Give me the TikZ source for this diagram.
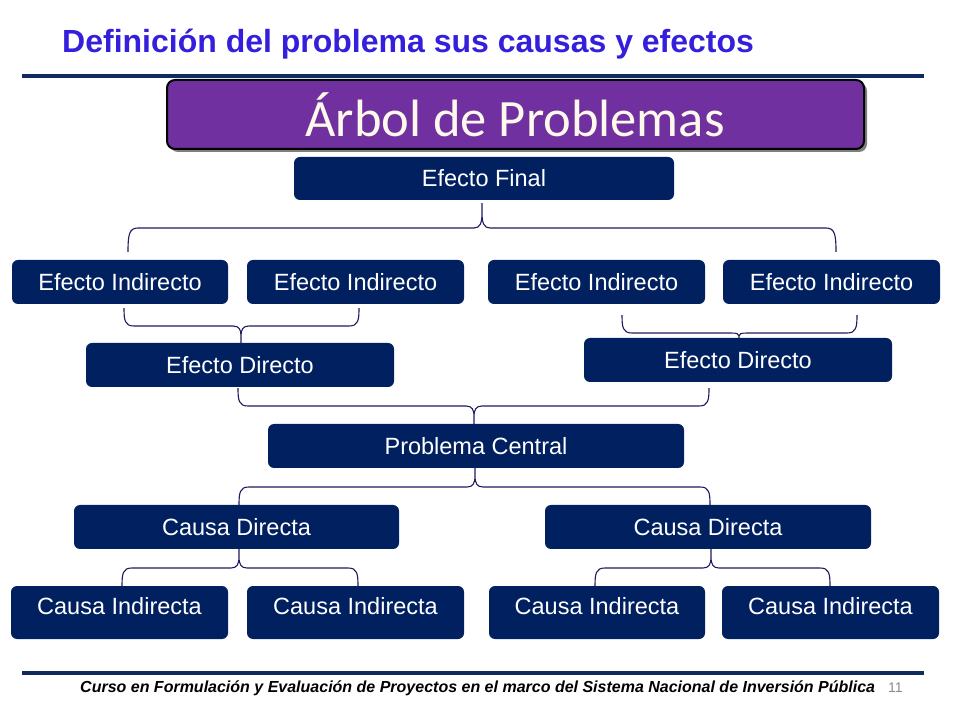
\documentclass[tikz,border=0pt]{standalone}
\usepackage{fontspec}
\setmainfont{Liberation Sans}
\newfontfamily\calibfont{Carlito}
\usetikzlibrary{calc,shadows}
\definecolor{navy}{HTML}{002060}
\definecolor{rulecol}{HTML}{0F2A5C}
\definecolor{titleblue}{RGB}{52,32,220}
\definecolor{bannerpurple}{HTML}{7030A0}
\definecolor{conncol}{HTML}{1E1B5E}
\definecolor{cream}{HTML}{FFF8EC}
\definecolor{pagegray}{HTML}{8C8C8C}
\newcommand\treebrace[4]{%
 \draw[conn] let \p1=(#1), \p2=(#2), \p3=(#3) in
 (\x1,\y1) -- (\x1,{#4pt+0.6*(\y1-#4pt)}) .. controls (\x1,{#4pt+0.2*(\y1-#4pt)}) and (\x1-2pt,#4pt) .. (\x1-8pt,#4pt) -- (\x2+10pt,#4pt) .. controls (\x2+1pt,#4pt) and (\x2,{#4pt+0.3*(\y2-#4pt)}) .. (\x2,\y2)
 (\x1,{#4pt+0.6*(\y1-#4pt)}) .. controls (\x1,{#4pt+0.2*(\y1-#4pt)}) and (\x1+2pt,#4pt) .. (\x1+8pt,#4pt) -- (\x3-10pt,#4pt) .. controls (\x3-1pt,#4pt) and (\x3,{#4pt+0.3*(\y3-#4pt)}) .. (\x3,\y3);}
\begin{document}
\begin{tikzpicture}[x=1pt,y=1pt,
  box/.style={rectangle, rounded corners=6pt, fill=navy, text=white, inner sep=0pt,
    font=\fontsize{23.5}{28}\selectfont, text height=16.8pt, text depth=0pt, minimum height=44pt},
  cibox/.style={box, minimum height=53pt, text depth=12pt},
  conn/.style={draw=conncol, line width=1.1pt},
  rulebar/.style={draw=rulecol, line width=4pt}]
\useasboundingbox[fill=white] (0,0) rectangle (960,720);
% title and rules
\node[anchor=base west, inner sep=0pt, text=titleblue, font=\bfseries\fontsize{32}{38}\selectfont] (title) at (62,667) {Definición del problema sus causas y efectos};
\coordinate (r1a) at (22,644); \coordinate (r1b) at (924,644);
\draw[rulebar] (r1a) -- (r1b);
\coordinate (r2a) at (22,47); \coordinate (r2b) at (924,47);
\draw[rulebar] (r2a) -- (r2b);
% banner
\node[draw=black, line width=2pt, fill=bannerpurple, rounded corners=8pt, minimum width=697pt, minimum height=69pt, inner sep=0pt,
  drop shadow={shadow xshift=3pt, shadow yshift=-3pt, fill=black, opacity=0.5}] (banner) at (515.5,605.5) {};
\node[anchor=base, inner sep=0pt, text=cream, font=\calibfont\fontsize{52.5}{62}\selectfont] (bannertext) at (515,583) {Árbol de Problemas};
% nodes
\node[box, minimum width=380pt, minimum height=43pt] (EF) at (484,541.5) {Efecto Final};
\node[box, minimum width=216pt] (EI1) at (120,438) {Efecto Indirecto};
\node[box, minimum width=217pt] (EI2) at (355.5,438) {Efecto Indirecto};
\node[box, minimum width=217pt] (EI3) at (596.5,438) {Efecto Indirecto};
\node[box, minimum width=217pt] (EI4) at (831.5,438) {Efecto Indirecto};
\node[box, minimum width=308pt] (EDl) at (240,355) {Efecto Directo};
\node[box, minimum width=308pt] (EDr) at (738,360) {Efecto Directo};
\node[box, minimum width=416pt] (PC) at (476,274) {Problema Central};
\node[box, minimum width=325pt] (CDl) at (236.5,193) {Causa Directa};
\node[box, minimum width=326pt] (CDr) at (708,193) {Causa Directa};
\node[cibox, minimum width=217pt] (CI1) at (119.5,107.5) {Causa Indirecta};
\node[cibox, minimum width=217pt] (CI2) at (355.5,107.5) {Causa Indirecta};
\node[cibox, minimum width=216pt] (CI3) at (597,107.5) {Causa Indirecta};
\node[cibox, minimum width=217pt] (CI4) at (830.5,107.5) {Causa Indirecta};
% braces
\treebrace{$(EF.south)+(-2,-3)$}{$(EI1.north)+(8,8)$}{$(EI4.north)+(4.5,8)$}{492}
\treebrace{$(EDl.north)+(1,0)$}{$(EI1.south)+(4,-4)$}{$(EI2.south)+(3.5,-4)$}{394}
\treebrace{$(EDr.north)+(1,0)$}{$(EI3.south)+(25.5,-11)$}{$(EI4.south)+(25.5,-11)$}{387}
\treebrace{$(PC.north)+(-2,0)$}{$(EDl.south)+(-2,-1)$}{$(EDr.south)+(-29,-6)$}{314}
\treebrace{$(PC.south)+(-1,0)$}{$(CDl.north)+(2.5,0)$}{$(CDr.north)+(2,0)$}{233}
\treebrace{$(CDl.south)+(2.5,0)$}{$(CI1.north)+(2.5,0)$}{$(CI2.north)+(2.5,0)$}{152}
\treebrace{$(CDr.south)+(3,0)$}{$(CI3.north)+(-2,0)$}{$(CI4.north)+(-0.5,0)$}{152}
% footer
\node[anchor=base west, inner sep=0pt, font=\bfseries\itshape\fontsize{16}{19}\selectfont] (foot) at (80,28) {Curso en Formulación y Evaluación de Proyectos en el marco del Sistema Nacional de Inversión Pública};
\node[anchor=base west, inner sep=0pt, text=pagegray, font=\fontsize{14}{17}\selectfont] (pagenum) at (888,28) {11};
\end{tikzpicture}
\end{document}
